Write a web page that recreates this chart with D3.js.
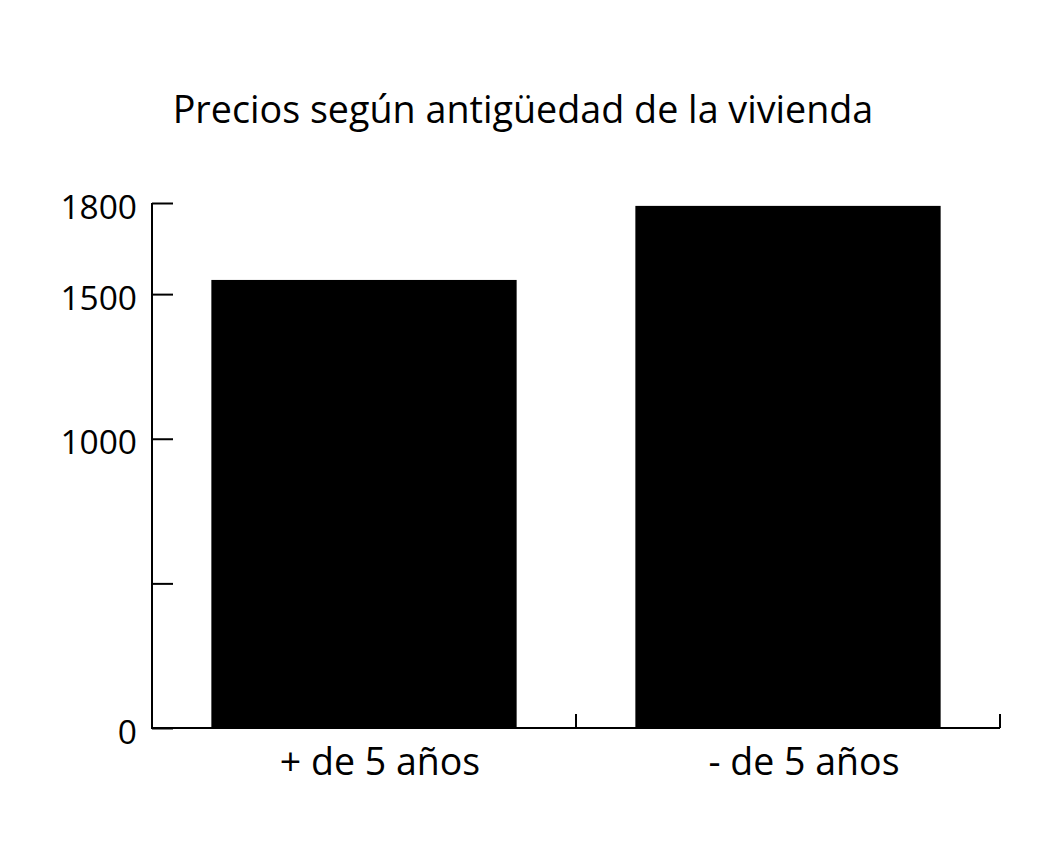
<!DOCTYPE html>
<html><head><meta charset="utf-8">
<script src="https://cdn.jsdelivr.net/npm/d3@7"></script>
<style>
body{margin:0;background:#fff;}
text{font-family:"Open Sans",sans-serif;fill:#000;}
</style></head>
<body><svg id="c" width="1064" height="858"></svg>
<script>
const title = "Precios según antigüedad de la vivienda";
const categories = ["+ de 5 años", "- de 5 años"];
const values = [1549, 1805];
const yMax = 1815;
const yTickValues = [0, 500, 1000, 1500, 1815];
const yTickLabels = ["0", "", "1000", "1500", "1800"];

(function () {
const svg = d3.select("#c");
const mLeft = 152, mRight = 1000, mTop = 203, mBottom = 728;

const x = d3.scaleBand().domain(categories).range([mLeft, mRight]).padding(0);
const y = d3.scaleLinear().domain([0, yMax]).range([mBottom, mTop]);

// title
svg.append("text").attr("x", 523).attr("y", 123).attr("text-anchor", "middle")
  .style("font-size", "37.7px").text(title);

// bars
const bw = x.bandwidth() * 0.72;
svg.selectAll("rect.bar").data(values).join("rect")
  .attr("class", "bar")
  .attr("x", (d, i) => x(categories[i]) + x.bandwidth() / 2 - bw / 2)
  .attr("width", bw)
  .attr("y", d => y(d))
  .attr("height", d => y(0) - y(d))
  .attr("fill", "#000");

// y axis
const yAxis = d3.axisRight(y).tickValues(yTickValues).tickSize(21)
  .tickFormat((d, i) => yTickLabels[i]);
const gy = svg.append("g").attr("transform", `translate(${mLeft},0)`).call(yAxis);
gy.select(".domain").remove();
gy.append("line").attr("x1", 0).attr("x2", 0).attr("y1", mTop).attr("y2", mBottom + 1)
  .attr("stroke", "#000").attr("stroke-width", 2);
gy.selectAll(".tick line").attr("stroke", "#000").attr("stroke-width", 2);
gy.selectAll(".tick text").attr("x", -15).attr("dy", "0.45em")
  .attr("text-anchor", "end").style("font-size", "33.5px").style("font-family", "'Open Sans',sans-serif");

// x axis
const gx = svg.append("g").attr("transform", `translate(0,${mBottom})`);
gx.append("line").attr("x1", mLeft - 1).attr("x2", mRight).attr("y1", 0).attr("y2", 0)
  .attr("stroke", "#000").attr("stroke-width", 2);
const bounds = categories.map(c => x(c) + x.bandwidth());
gx.selectAll("line.tk").data(bounds).join("line").attr("class", "tk")
  .attr("x1", d => d).attr("x2", d => d).attr("y1", 0).attr("y2", -14)
  .attr("stroke", "#000").attr("stroke-width", 2);
gx.selectAll("text.lab").data(categories).join("text").attr("class", "lab")
  .attr("x", d => x(d) + x.bandwidth() / 2 + 16).attr("y", 47)
  .attr("text-anchor", "middle").style("font-size", "37.5px").text(d => d);
})();
</script></body></html>
